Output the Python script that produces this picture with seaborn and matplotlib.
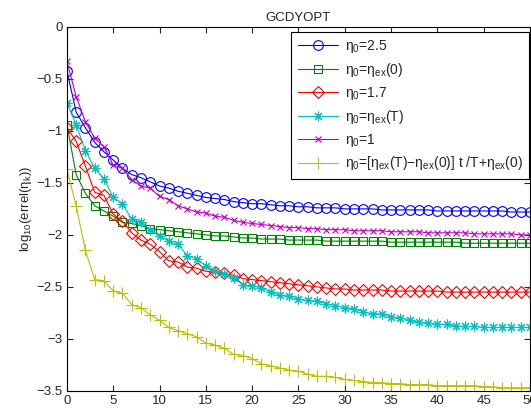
import matplotlib
matplotlib.use("Agg")
import matplotlib.pyplot as plt
import seaborn as sns
from matplotlib.ticker import FuncFormatter

iterations = list(range(51))

eta_25 = [-0.42, -0.82, -0.97, -1.11, -1.20, -1.28, -1.36, -1.42, -1.45, -1.49,
          -1.53, -1.55, -1.58, -1.60, -1.62, -1.64, -1.65, -1.66, -1.68, -1.69,
          -1.70, -1.70, -1.71, -1.72, -1.72, -1.73, -1.73, -1.74, -1.74, -1.74,
          -1.75, -1.75, -1.75, -1.75, -1.76, -1.76, -1.76, -1.76, -1.76, -1.76,
          -1.77, -1.77, -1.77, -1.77, -1.77, -1.77, -1.77, -1.77, -1.78, -1.78,
          -1.78]
eta_ex0 = [-0.94, -1.42, -1.60, -1.72, -1.77, -1.82, -1.88, -1.89, -1.91, -1.94,
           -1.95, -1.96, -1.97, -1.98, -1.99, -2.00, -2.01, -2.01, -2.02, -2.03,
           -2.03, -2.04, -2.04, -2.04, -2.05, -2.05, -2.05, -2.05, -2.06, -2.06,
           -2.06, -2.06, -2.06, -2.06, -2.06, -2.07, -2.07, -2.07, -2.07, -2.07,
           -2.07, -2.07, -2.07, -2.08, -2.08, -2.08, -2.08, -2.08, -2.08, -2.08,
           -2.08]
eta_17 = [-0.97, -1.10, -1.34, -1.59, -1.62, -1.80, -1.87, -1.98, -2.05, -2.09,
          -2.16, -2.25, -2.26, -2.31, -2.32, -2.35, -2.36, -2.37, -2.39, -2.42,
          -2.43, -2.44, -2.45, -2.46, -2.47, -2.48, -2.49, -2.50, -2.51, -2.52,
          -2.52, -2.53, -2.53, -2.53, -2.53, -2.54, -2.54, -2.54, -2.54, -2.54,
          -2.54, -2.55, -2.55, -2.55, -2.55, -2.55, -2.55, -2.55, -2.55, -2.55,
          -2.55]
eta_exT = [-0.73, -0.94, -1.19, -1.36, -1.46, -1.64, -1.70, -1.85, -1.88, -1.95,
           -2.01, -2.06, -2.09, -2.20, -2.23, -2.30, -2.35, -2.38, -2.41, -2.48,
           -2.49, -2.51, -2.55, -2.58, -2.59, -2.62, -2.63, -2.64, -2.66, -2.68,
           -2.70, -2.71, -2.74, -2.76, -2.76, -2.79, -2.80, -2.82, -2.84, -2.85,
           -2.86, -2.86, -2.88, -2.88, -2.88, -2.89, -2.89, -2.89, -2.89, -2.89,
           -2.89]
eta_1 = [-0.33, -0.67, -0.91, -1.07, -1.15, -1.33, -1.36, -1.47, -1.53, -1.55,
         -1.63, -1.66, -1.72, -1.75, -1.78, -1.79, -1.82, -1.83, -1.86, -1.88,
         -1.89, -1.90, -1.91, -1.92, -1.93, -1.93, -1.94, -1.94, -1.95, -1.95,
         -1.95, -1.96, -1.96, -1.96, -1.96, -1.97, -1.97, -1.97, -1.97, -1.98,
         -1.98, -1.98, -1.98, -1.98, -1.99, -1.99, -1.99, -1.99, -1.99, -2.00,
         -2.00]
eta_lin = [-1.37, -1.72, -2.15, -2.43, -2.44, -2.54, -2.56, -2.67, -2.70, -2.77,
           -2.82, -2.89, -2.92, -2.95, -2.98, -3.04, -3.06, -3.09, -3.15, -3.16,
           -3.19, -3.24, -3.26, -3.28, -3.30, -3.31, -3.34, -3.36, -3.36, -3.37,
           -3.39, -3.40, -3.41, -3.42, -3.42, -3.43, -3.43, -3.44, -3.44, -3.44,
           -3.45, -3.45, -3.45, -3.45, -3.45, -3.46, -3.46, -3.47, -3.47, -3.47,
           -3.47]

labels = [r"$\eta_0$=2.5",
          r"$\eta_0$=$\eta_{ex}$(0)",
          r"$\eta_0$=1.7",
          r"$\eta_0$=$\eta_{ex}$(T)",
          r"$\eta_0$=1",
          r"$\eta_0$=[$\eta_{ex}$(T)$-\eta_{ex}$(0)] t /T+$\eta_{ex}$(0)"]
series = [eta_25, eta_ex0, eta_17, eta_exT, eta_1, eta_lin]

colors = ["#0000ff", "#008000", "#ff0000", "#00bfbf", "#bf00bf", "#bfbf00"]
markers = ["o", "s", "D", (8, 2, 0), "x", "+"]
msizes = [7, 6, 6, 7, 5, 8]

sns.set_style("ticks")
plt.rcParams["font.family"] = ["Liberation Sans", "DejaVu Sans"]
plt.rcParams["mathtext.default"] = "regular"
plt.rcParams["axes.unicode_minus"] = True

fig = plt.figure(figsize=(5.31, 4.08), dpi=100)
ax = fig.add_axes([0.126, 0.042, 0.872, 0.892])

for vals, lab, c, m, ms in zip(series, labels, colors, markers, msizes):
    sns.lineplot(x=iterations, y=vals, ax=ax, color=c, marker=m, markersize=ms,
                 markerfacecolor="none", markeredgecolor=c, markeredgewidth=0.8,
                 linewidth=0.8, label=lab)

ax.set_xlim(0, 50)
ax.set_ylim(-3.5, 0)
ax.set_xticks(range(0, 51, 5))
ax.set_yticks([-3.5, -3, -2.5, -2, -1.5, -1, -0.5, 0])
ax.yaxis.set_major_formatter(FuncFormatter(lambda v, p: ("%g" % v).replace("-", "\u2212")))
ax.tick_params(direction="in", top=True, right=True, length=4, width=0.8,
               labelsize=9.5, pad=3)
for s in ax.spines.values():
    s.set_linewidth(0.8)
    s.set_color("black")

ax.set_ylabel(r"log$_{10}$(errel($\eta_k$))", fontsize=9.5, labelpad=2)
ax.set_xlabel("")
ax.set_title("GCDYOPT", fontsize=9.5, pad=4)

leg = ax.legend(loc="upper right", bbox_to_anchor=(0.998, 0.986), borderaxespad=0,
                fontsize=10, frameon=True, fancybox=False, edgecolor="black",
                framealpha=1, handlelength=2.9, labelspacing=0.42, borderpad=0.45,
                handletextpad=0.5)
leg.get_frame().set_linewidth(0.8)

fig.savefig("out.png", dpi=100)
